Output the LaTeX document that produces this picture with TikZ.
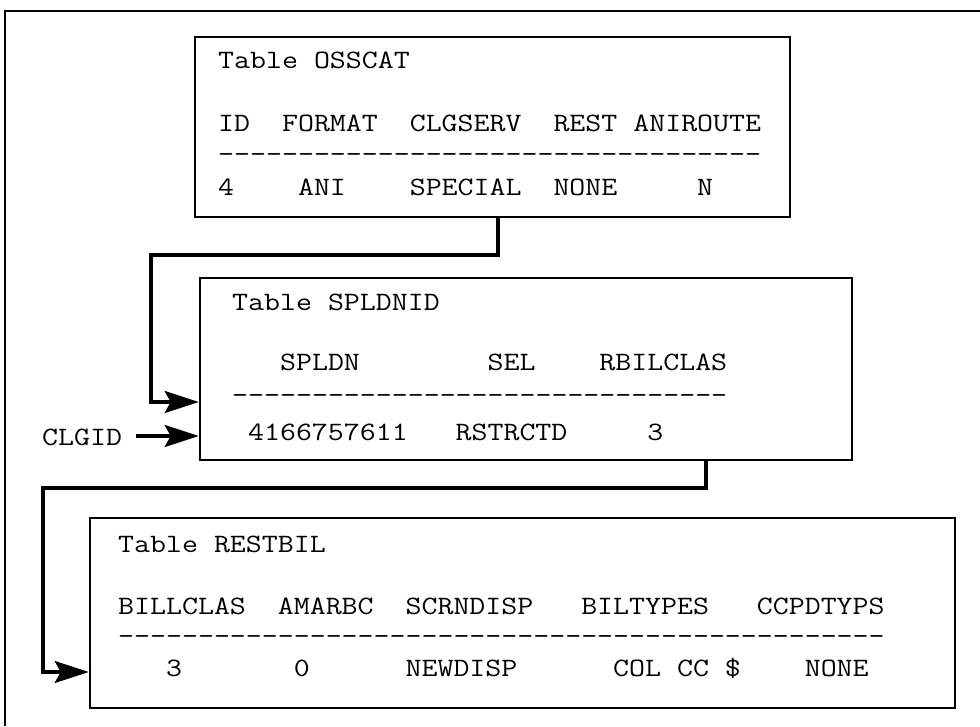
\documentclass[tikz,border=0pt]{standalone}
\usepackage{fontspec}
\setmonofont{Latin Modern Mono}[FakeStretch=1.17]
\usetikzlibrary{arrows.meta}
\begin{document}
\begin{tikzpicture}[x=1pt,y=-1pt,
  tbl/.style={draw=black,line width=2.6pt,rectangle,inner sep=0pt},
  txt/.style={anchor=base west,inner sep=0pt,font=\ttfamily\fontsize{26.5}{30}\selectfont},
  conn/.style={line width=3.2pt,line join=miter},
  tip/.style={-{Stealth[length=34pt,width=22pt,inset=6pt]}}]
\useasboundingbox (0,0) rectangle (980,726);
\draw[line width=1.2pt] (5,726) -- (5,11) -- (980,11);

% boxes
\node[tbl,minimum width=595pt,minimum height=180pt] (osscat) at (492.5,127) {};
\node[tbl,minimum width=652pt,minimum height=182pt] (spldnid) at (526,369) {};
\node[tbl,minimum width=865pt,minimum height=190pt] (restbil) at (522.5,613) {};

% OSSCAT text
\node[txt] (o1) at (218,68) {Table OSSCAT};
\node[txt] (o2) at (218,131) {ID~~FORMAT~~CLGSERV~~REST~ANIROUTE};
\node[txt] (o3) at (218,162) {----------------------------------};
\node[txt] (o4) at (218,195) {4~~~~ANI~~~~SPECIAL~~NONE~~~~~N};

% SPLDNID text
\node[txt] (s1) at (232,310) {Table SPLDNID};
\node[txt] (s2) at (232,370) {~~~SPLDN~~~~~~~~SEL~~~~RBILCLAS};
\node[txt] (s3) at (232,403) {-------------------------------};
\node[txt] (s4) at (232,440) {~4166757611~~~RSTRCTD~~~~~3};

% RESTBIL text
\node[txt] (r1) at (118,552) {Table RESTBIL};
\node[txt] (r2) at (118,614) {BILLCLAS~~AMARBC~~SCRNDISP~~~BILTYPES~~~CCPDTYPS};
\node[txt] (r3) at (118,644) {------------------------------------------------};
\node[txt] (r4) at (118,676) {~~~3~~~~~~~0~~~~~~NEWDISP~~~~~~COL~CC~\$~~~~NONE};

% CLGID
\node[txt] (clgid) at (42,445) {CLGID};

% connectors
\coordinate (k1) at (498,0);
\coordinate (k2) at (151,255);
\coordinate (k3) at (0,402);
\coordinate (k4) at (706,0);
\coordinate (k5) at (43,488);
\coordinate (k6) at (0,672);
\coordinate (k7) at (0,436);
\coordinate (k8) at (136,436);

\draw[conn,tip] (osscat.south -| k1) |- (k2) |- (spldnid.west |- k3);
\draw[conn,tip] (spldnid.south -| k4) |- (k5) |- (restbil.west |- k6);
\draw[conn,tip] (k8) -- (spldnid.west |- k7);
\end{tikzpicture}
\end{document}
